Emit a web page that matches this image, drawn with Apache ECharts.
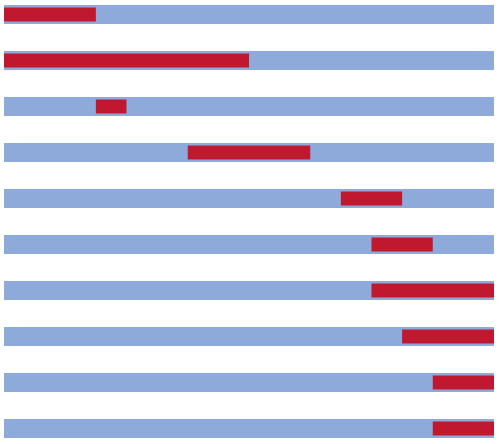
<!DOCTYPE html>
<html>
<head>
<meta charset="utf-8">
<script src="https://cdn.jsdelivr.net/npm/echarts@6/dist/echarts.min.js"></script>
<style>html,body{margin:0;padding:0;background:#fff;}#c{width:500px;height:444px;}</style>
</head>
<body>
<div id="c"></div>
<script>
const categories = ['1','2','3','4','5','6','7','8','9','10'];
const startValues = [0, 0, 3, 6, 11, 12, 12, 13, 14, 14];
const endValues = [3, 8, 4, 10, 13, 14, 16, 16, 16, 16];
const totalValues = [16, 16, 16, 16, 16, 16, 16, 16, 16, 16];

const chart = echarts.init(document.getElementById('c'));
const yAxisBase = {
  type: 'category', data: categories, inverse: true, boundaryGap: false,
  show: false
};
chart.setOption({
  animation: false,
  grid: { left: 4, right: 6, top: 14.5, bottom: 15.5 },
  xAxis: { type: 'value', min: 0, max: 16, show: false },
  yAxis: [Object.assign({}, yAxisBase), Object.assign({}, yAxisBase)],
  series: [
    { type: 'bar', yAxisIndex: 0, data: totalValues, barWidth: 19,
      itemStyle: { color: '#8eaadb' }, silent: true },
    { type: 'bar', yAxisIndex: 1, stack: 'r', data: startValues, barWidth: 14,
      itemStyle: { color: 'transparent' }, silent: true },
    { type: 'bar', yAxisIndex: 1, stack: 'r',
      data: endValues.map((e, i) => e - startValues[i]), barWidth: 14,
      itemStyle: { color: '#c0182e' }, silent: true }
  ]
});
</script>
</body>
</html>
